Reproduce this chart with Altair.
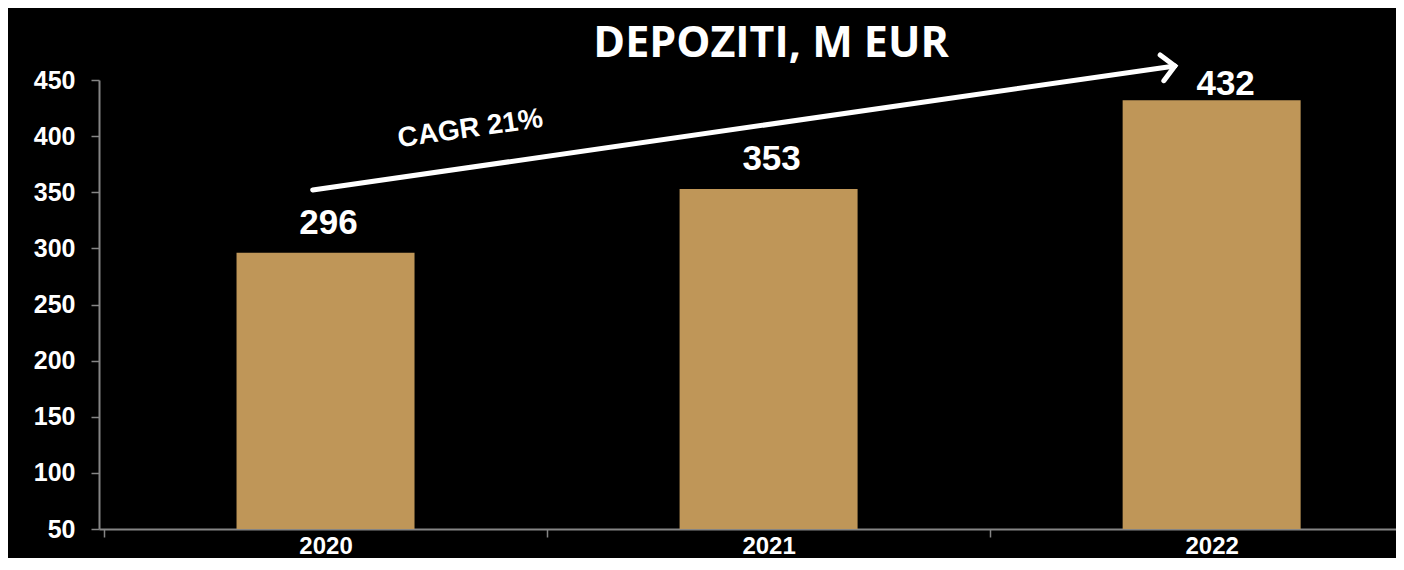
import json
import math
import altair as alt
import pandas as pd

# ---- data ----
years = ["2020", "2021", "2022"]
deposits = [296, 353, 432]
y_ticks = [50, 100, 150, 200, 250, 300, 350, 400, 450]
title_text = "DEPOZITI, M EUR"
cagr_label = "CAGR 21%"

# annotation anchors (data units)
arrow_x = [-0.029, 1.917]
arrow_y = [352, 462.5]
cagr_x = [0.327]
cagr_y = [406.3]
title_x = [1.0056]
title_y = [470.5]

# ---- layout ----
SVG_W, SVG_H = 1388, 550
PAD_L, PAD_T = 91, 72
PLOT_W, PLOT_H = SVG_W - PAD_L, 449
UNIT_PX = 446.5
X_DOMAIN = [-0.5, -0.5 + PLOT_W / UNIT_PX]
Y_DOMAIN = [50, 450]
BAR_COLOR = "#BF9658"
AXIS_COLOR = "#858585"
LABEL_FONT = "Liberation Sans"

df = pd.DataFrame({"idx": list(range(len(years))), "year": years, "value": deposits})
last_idx = len(years) - 1
arrow_df = pd.DataFrame({"ax": arrow_x, "ay": arrow_y})
head_df = pd.DataFrame({"ax": [arrow_x[-1]], "ay": [arrow_y[-1]]})
cagr_df = pd.DataFrame({"cx": cagr_x, "cy": cagr_y, "t": [cagr_label]})
title_df = pd.DataFrame({"cx": title_x, "cy": title_y, "t": [title_text]})

px_x = PLOT_W / (X_DOMAIN[1] - X_DOMAIN[0])
px_y = PLOT_H / (Y_DOMAIN[1] - Y_DOMAIN[0])
ang = math.degrees(math.atan2((arrow_y[1] - arrow_y[0]) * px_y, (arrow_x[1] - arrow_x[0]) * px_x))
rot = 360 - ang

xscale = alt.Scale(domain=X_DOMAIN, nice=False, zero=False)
yscale = alt.Scale(domain=Y_DOMAIN, nice=False, zero=False)

label_expr = "datum.value % 1 === 0 ? " + json.dumps(years) + "[datum.value] : ''"

x_axis = alt.Axis(
    values=[-0.5, 0, 0.5, 1, 1.5, 2],
    labelExpr=label_expr,
    title=None,
    grid=False,
    tickSize=8,
    tickColor=AXIS_COLOR,
    tickWidth=1.5,
    tickOpacity={"condition": {"test": "datum.value % 1 === 0", "value": 0}, "value": 1},
    domainColor=AXIS_COLOR,
    domainWidth=2,
    labelFont=LABEL_FONT,
    labelFontSize=24,
    labelFontWeight="bold",
    labelColor="white",
    labelPadding=-3,
    labelOverlap=False,
    labelFlush=False,
)
y_axis = alt.Axis(
    values=y_ticks,
    title=None,
    grid=False,
    tickSize=8,
    tickColor=AXIS_COLOR,
    tickWidth=1.5,
    domainColor=AXIS_COLOR,
    domainWidth=2,
    labelFont=LABEL_FONT,
    labelFontSize=25,
    labelFontWeight="bold",
    labelColor="white",
    labelPadding=16,
    labelOverlap=False,
    labelFlush=False,
)


def X(field):
    return alt.X(field, scale=xscale, axis=x_axis, title=None)


def Y(field):
    return alt.Y(field, scale=yscale, axis=y_axis, title=None)


base = alt.Chart(df)

bars = base.mark_bar(size=178, color=BAR_COLOR).encode(
    x=X("idx:Q"), y=Y("value:Q"), y2=alt.datum(Y_DOMAIN[0])
)

label_style = dict(baseline="bottom", align="center", font=LABEL_FONT, fontSize=35,
                   fontWeight="bold", color="white")
labels_a = base.transform_filter(f"datum.idx < {last_idx}").mark_text(
    dx=3, dy=-12, **label_style
).encode(x=X("idx:Q"), y=Y("value:Q"), text="value:Q")
labels_b = base.transform_filter(f"datum.idx == {last_idx}").mark_text(
    dx=14, dy=1.5, **label_style
).encode(x=X("idx:Q"), y=Y("value:Q"), text="value:Q")

arrow = alt.Chart(arrow_df).mark_line(
    color="white", strokeWidth=5, strokeCap="round"
).encode(x=X("ax:Q"), y=Y("ay:Q"))

head = alt.Chart(head_df).mark_point(
    shape="M-1,-1L0,0L-1,1", size=676, filled=False, color="white",
    strokeWidth=5, opacity=1, angle=rot, strokeCap="round", strokeJoin="miter"
).encode(x=X("ax:Q"), y=Y("ay:Q"))

cagr = alt.Chart(cagr_df).mark_text(
    angle=352, align="center", baseline="middle", font=LABEL_FONT,
    fontSize=28, fontWeight="bold", color="white"
).encode(x=X("cx:Q"), y=Y("cy:Q"), text="t:N")

title = alt.Chart(title_df).mark_text(
    align="center", baseline="alphabetic", font="Open Sans",
    fontSize=43, fontWeight="bold", color="white"
).encode(x=X("cx:Q"), y=Y("cy:Q"), text="t:N")

chart = alt.layer(bars, labels_a, labels_b, arrow, head, cagr, title).properties(
    width=PLOT_W,
    height=PLOT_H,
    padding={"left": PAD_L, "top": PAD_T, "right": 0, "bottom": SVG_H - PAD_T - PLOT_H},
    autosize=alt.AutoSizeParams(type="none"),
    background="black",
).configure_view(stroke=None)

chart.save("out.html", embed_options={"renderer": "svg", "actions": False})
